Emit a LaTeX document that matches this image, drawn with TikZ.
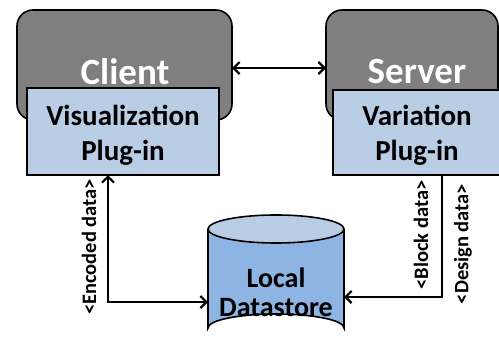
\documentclass[tikz,border=0pt]{standalone}
\usepackage{fontspec}
\setmainfont{Carlito}
\usetikzlibrary{arrows.meta,shapes.geometric}
\definecolor{boxgray}{HTML}{7F7F7F}
\definecolor{plugblue}{HTML}{B9CDE5}
\definecolor{dbblue}{HTML}{8EB4E3}
\definecolor{dbtop}{HTML}{B9CDE5}
\tikzset{
  hostbox/.style={draw=black, line width=1.6pt, fill=boxgray, rounded corners=16pt},
  plugbox/.style={draw=black, line width=1.6pt, fill=plugblue},
  hosttext/.style={text=white, font=\bfseries\fontsize{37}{40}\selectfont},
  plugtext/.style={font=\bfseries\fontsize{29}{35}\selectfont, align=center},
  conn/.style={line width=2.2pt, -{Straight Barb[length=6pt,width=12pt,line width=2.2pt]}},
  dconn/.style={line width=2.2pt, {Straight Barb[length=6pt,width=12pt,line width=2.2pt]}-{Straight Barb[length=6pt,width=12pt,line width=2.2pt]}},
  lbl/.style={rotate=90, font=\bfseries\fontsize{20.5}{22}\selectfont},
}
\begin{document}
\begin{tikzpicture}[x=1pt,y=-1pt]
\useasboundingbox (0,0) rectangle (499,351);
\fill[white] (0,0) rectangle (499,351);
% Client
\draw[hostbox] (17,10) rectangle (232,120);
\coordinate (clientR) at (232,68);
\node[hosttext] (client) at (125,72) {Client};
\draw[plugbox] (27,88) rectangle (219,175);
\node[plugtext] (vis) at (123,135) {Visualization\\Plug-in};
\coordinate (visB) at (108,175);
% Server
\draw[hostbox] (326,10) rectangle (498,120);
\coordinate (serverL) at (326,68);
\node[hosttext] (server) at (417,72) {Server};
\draw[plugbox] (333,90) rectangle (520,175);
\node[plugtext] (var) at (417,135) {Variation\\Plug-in};
\coordinate (varB) at (442,175);
% Datastore
\fill[dbblue] (208,229) -- (208,328) arc[start angle=180,end angle=360,x radius=68,y radius=14] -- (344,229) -- cycle;
\draw[line width=1.6pt] (208,229) -- (208,328) arc[start angle=180,end angle=360,x radius=68,y radius=14] -- (344,229);
\draw[line width=1.6pt, fill=dbtop] (276,229) ellipse[x radius=68, y radius=14];
\node[font=\bfseries\fontsize{28}{29}\selectfont, align=center] (db) at (276,292) {Local\\Datastore};
\coordinate (dbL) at (208,302);
\coordinate (dbR) at (344,297);
% connectors
\draw[dconn] (clientR) -- (serverL);
\draw[dconn] (visB) -- (108,302) -- (dbL);
\draw[conn] (varB) -- (442,297) -- (dbR);
% labels
\node[lbl] (enc) at (89,247) {<Encoded data>};
\node[lbl] (blk) at (421,235) {<Block data>};
\node[lbl] (des) at (463,244) {<Design data>};
\end{tikzpicture}
\end{document}
